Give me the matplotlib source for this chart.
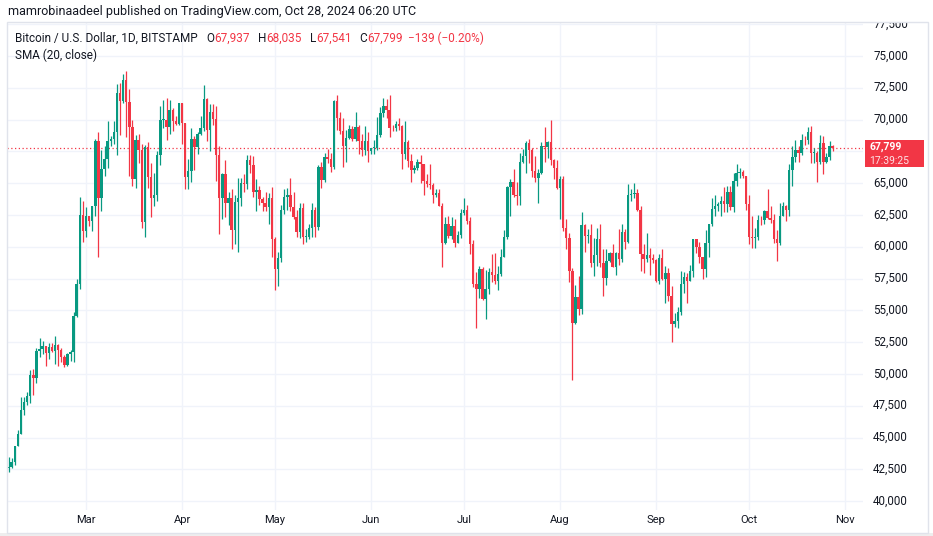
import matplotlib
matplotlib.use("Agg")
import matplotlib.pyplot as plt
import matplotlib.dates as mdates
from matplotlib.patches import Rectangle
import pandas as pd

# BTC/USD daily candles, BITSTAMP, from 2024-02-05 to 2024-10-28
start_date = "2024-02-05"
first_open = 42580

closes = [
    # Feb
    42660, 43090, 44340, 45290, 47140, 47770, 48300, 49940, 49700, 51800, 51930, 52160, 51660,
    52120, 51780, 52260, 51850, 51320, 50730, 51570, 51730, 54520, 57080, 62500, 61200,
    # Mar
    62440, 62030, 63170, 68330, 63800, 66100, 66930, 68300, 68500, 69020, 72100, 71480, 73100,
    71400, 69400, 65300, 68390, 67600, 61930, 67840, 65500, 63800, 64040, 67210, 69990, 69990,
    69450, 70780, 69880, 69640, 71330,
    # Apr
    69700, 65450, 65980, 68500, 67840, 68900, 69360, 71620, 69140, 70590, 70060, 67190, 63820,
    65740, 63420, 63810, 61280, 63510, 63840, 64990, 64930, 66840, 66400, 64300, 64480, 63760,
    63460, 63120, 63860, 60640,
    # May
    58250, 59120, 62890, 63890, 64030, 63160, 62330, 61190, 63050, 60790, 60800, 61460, 62900,
    61550, 66250, 65230, 67040, 66930, 66270, 71440, 70140, 69120, 67930, 68530, 69280, 68500,
    69390, 68320, 67630, 68350, 67490,
    # Jun
    67750, 67770, 68800, 70550, 71080, 70790, 69340, 69300, 69640, 69510, 67320, 68240, 66750,
    66010, 66190, 66640, 66490, 65150, 64960, 64840, 64100, 64260, 63180, 60280, 61800, 60860,
    61610, 60320, 60890, 62670,
    # Jul
    62850, 62030, 60200, 57050, 56660, 58230, 55860, 56700, 58000, 57740, 57340, 57890, 59200,
    60800, 64700, 65090, 64100, 63970, 66700, 67150, 68180, 67580, 65930, 65370, 65800, 67900,
    67830, 68250, 66800, 66170, 64620,
    # Aug
    65350, 61480, 60680, 58110, 54020, 56040, 55130, 61690, 60840, 60920, 58710, 59350, 60600,
    58740, 57560, 58880, 59480, 58440, 59490, 59010, 61160, 60380, 64090, 64160, 64220, 62880,
    59420, 59020, 59350, 59110, 58970,
    # Sep
    57300, 59130, 57480, 57970, 56160, 53960, 54160, 54870, 57050, 57650, 57340, 58130, 60570,
    60000, 59180, 58210, 60310, 61760, 62950, 63200, 63350, 63580, 63340, 64270, 63140, 65180,
    65790, 65880, 65600, 63330,
    # Oct
    60800, 60650, 60750, 62080, 62070, 62820, 62220, 62130, 60580, 60270, 62450, 63200, 62850,
    66050, 67040, 67620, 67380, 68400, 68360, 69000, 67370, 67370, 66650, 68160, 66630, 67020,
    67940, 67799,
]

highs = [
    43500, 43400, 44370, 45600, 48200, 48150, 48550, 50300, 50370, 52000, 52830, 52570, 52200,
    52400, 52450, 52950, 52350, 52000, 51500, 51650, 51900, 54900, 57500, 63900, 63600,
    63100, 62450, 63200, 68500, 69000, 67600, 67900, 69900, 68700, 69900, 72800, 72900, 73600,
    73800, 72400, 70000, 68800, 68900, 68100, 68000, 68200, 66600, 65800, 67500, 71100, 71500,
    71700, 71500, 70900, 70300, 71300,
    71300, 69700, 66900, 69300, 68700, 69000, 70300, 72700, 71700, 71200, 71200, 71100, 67900,
    65800, 66800, 64300, 64500, 64100, 65400, 65400, 65700, 67200, 67200, 67100, 65300, 64800,
    63900, 64300, 64200, 64700,
    60800, 59600, 63300, 64500, 64600, 65400, 64300, 62900, 63400, 63400, 61400, 61800, 63400,
    63100, 66400, 66700, 67400, 67700, 67400, 71500, 71900, 70600, 70100, 69200, 69600, 69500,
    70600, 69600, 68900, 69500, 69000,
    67800, 68400, 70200, 71000, 71700, 71600, 71900, 69600, 69900, 70100, 69600, 69900, 68400,
    67300, 66400, 66900, 67200, 66500, 65700, 66500, 65000, 64500, 64500, 63400, 62300, 62400,
    62300, 62200, 61200, 63000,
    63800, 63300, 62300, 60500, 58000, 58500, 58400, 58200, 58300, 59400, 59500, 58500, 59800,
    61300, 64800, 65300, 66100, 65100, 67400, 67700, 68300, 68500, 67800, 67100, 66100, 68200,
    69400, 68300, 70000, 66900, 66800,
    65600, 65600, 62200, 61100, 58300, 57000, 57700, 62700, 61800, 61400, 61800, 60700, 61500,
    61800, 59800, 59800, 59600, 60200, 59600, 61400, 61800, 61400, 64900, 64500, 65000, 64500,
    63200, 60200, 61100, 59900, 59400,
    59000, 59400, 59800, 58500, 58300, 56900, 54800, 55300, 58100, 58000, 57900, 58600, 60600,
    60600, 60400, 59200, 61300, 61800, 63800, 64100, 63500, 64000, 64700, 64800, 64800, 65800,
    66500, 66200, 66000, 65600,
    64100, 62400, 61500, 62500, 62400, 62900, 64500, 63200, 62600, 61300, 63400, 63500, 63300,
    66500, 67900, 68400, 67900, 68900, 68700, 69400, 69500, 67800, 67500, 68800, 68700, 67400,
    68300, 68035,
]

lows = [
    42250, 42600, 42800, 44340, 45250, 46800, 47540, 47700, 48350, 49300, 51330, 51600, 50650,
    51200, 51700, 50800, 50650, 50900, 50550, 50600, 51000, 50950, 54450, 56700, 60400,
    60800, 61600, 61200, 62400, 59200, 62800, 65600, 66200, 67900, 68100, 67200, 68800, 71300,
    68600, 65600, 64800, 64600, 66600, 61500, 60800, 64600, 62300, 63200, 63600, 66400, 69300,
    68400, 68900, 69100, 69600, 69600,
    68100, 64500, 64500, 65100, 66000, 67300, 68800, 69100, 68300, 67500, 69600, 65200, 61000,
    62200, 62300, 61700, 59800, 60200, 59600, 63200, 64300, 64500, 65800, 63900, 62800, 63300,
    62800, 62800, 61800, 59200,
    56600, 56900, 58800, 62600, 62900, 62800, 62200, 60800, 60700, 60200, 60400, 60600, 60800,
    60800, 61300, 64600, 65100, 66600, 65900, 66100, 69200, 68900, 66300, 66700, 68500, 68300,
    68300, 67300, 67100, 67200, 66700,
    67300, 67300, 67600, 68600, 70200, 70100, 68600, 69100, 69100, 69200, 66100, 66900, 66300,
    65100, 65800, 66000, 65000, 64100, 64700, 64500, 63400, 63900, 63200, 58400, 60200, 60700,
    60600, 60000, 60300, 60700,
    62500, 61800, 59400, 56800, 53600, 56000, 55800, 54300, 56300, 57200, 57100, 56600, 57700,
    59200, 60600, 62400, 63900, 63300, 63300, 66600, 65800, 66600, 65500, 65100, 63400, 65700,
    66700, 67000, 66400, 65300, 64500,
    62200, 61200, 59800, 57200, 49500, 53900, 54600, 54700, 59600, 60300, 58400, 57700, 58500,
    58400, 56100, 57000, 58800, 58400, 57800, 58600, 58800, 59800, 60300, 63600, 63800, 62800,
    58100, 57900, 58800, 57800, 58700,
    57200, 57100, 57400, 55600, 55700, 52500, 53700, 53600, 54600, 56400, 55600, 57300, 57600,
    59500, 58700, 57500, 57600, 59200, 61600, 62400, 62800, 62400, 62700, 62700, 62900, 62700,
    64800, 65400, 65400, 62900,
    60200, 59900, 59900, 60500, 61700, 61800, 62200, 61900, 60300, 58900, 60100, 62400, 62000,
    62400, 64800, 66700, 66700, 67200, 68000, 68100, 66600, 66600, 65100, 66500, 65700, 66600,
    66800, 67541,
]

price_ticks = [40000, 42500, 45000, 47500, 50000, 52500, 55000, 57500, 60000, 62500,
               65000, 67500, 70000, 72500, 75000, 77500]
month_labels = ["Mar", "Apr", "May", "Jun", "Jul", "Aug", "Sep", "Oct", "Nov"]
month_starts = ["2024-03-01", "2024-04-01", "2024-05-01", "2024-06-01", "2024-07-01",
                "2024-08-01", "2024-09-01", "2024-10-01", "2024-11-01"]

last_price = 67799
countdown = "17:39:25"

UP = "#089981"
DOWN = "#F23645"
TXT = "#131722"
GRID = "#f0f3fa"

plt.rcParams["font.family"] = ["Roboto", "DejaVu Sans"]

opens = [first_open] + closes[:-1]
opens[-1] = 67937
dates = mdates.date2num(pd.date_range(start_date, periods=len(closes)))
mstarts = mdates.date2num(pd.to_datetime(month_starts))

W, H = 933, 536
fig = plt.figure(figsize=(W / 100, H / 100), dpi=100)
fig.patch.set_facecolor("white")

def fx(px):
    return px / W

def fy(py):
    return 1 - py / H

# plot area in pixels
L, R, T, B = 7, 863, 22, 510
ax = fig.add_axes([fx(L), fy(B), fx(R - L), (B - T) / H])
ax.set_xlim(mstarts[0] - 25.5, mstarts[-1] + 5.8)
ax.set_ylim(39300, 77670)
for s in ax.spines.values():
    s.set_visible(False)
ax.set_xticks([])
ax.set_yticks([])

for p in price_ticks:
    ax.axhline(p, color=GRID, lw=1, zorder=0)
for m in mstarts:
    ax.axvline(m, color=GRID, lw=1, zorder=0)

colors = [UP if c >= o else DOWN for o, c in zip(opens, closes)]
ax.vlines(dates, lows, highs, colors=colors, lw=0.9, zorder=2)
bottoms = [min(o, c) for o, c in zip(opens, closes)]
heights = [max(abs(c - o), 60) for o, c in zip(opens, closes)]
ax.bar(dates, heights, bottom=bottoms, width=0.78, color=colors, lw=0, zorder=3)

ax.axhline(last_price, color=DOWN, lw=0.9, ls=(0, (1, 2)), zorder=1)

# month labels under the plot
for m, lab in zip(mstarts, month_labels):
    ax.text(m, -10 / (B - T), lab, transform=ax.get_xaxis_transform(), ha="center",
            va="center", fontsize=8, color=TXT, clip_on=False)

# price axis (the label under the last-price tag is hidden, as on TradingView)
pax = fig.add_axes([fx(R), fy(B), fx(928 - R), (B - T) / H])
pax.set_ylim(ax.get_ylim())
pax.set_xlim(0, 1)
pax.axis("off")
for p in price_ticks:
    if abs(p - last_price) < 1200:
        continue
    pax.text((908 - R) / (928 - R), p, f"{p:,}", ha="right", va="center",
             fontsize=8.3, color=TXT, clip_on=True)

# last price tag
fig.patches.append(Rectangle((fx(865), fy(167)), fx(924 - 865), 27 / H,
                             transform=fig.transFigure, facecolor=DOWN,
                             edgecolor="none", zorder=5))
fig.text(fx(869), fy(147), f"{last_price:,}", ha="left", va="center", fontsize=7.5,
         color="white", fontweight="bold", zorder=6)
fig.text(fx(869), fy(160.5), countdown, ha="left", va="center", fontsize=7.5,
         color="#fde2e5", zorder=6)

# chart frame
fig.patches.append(Rectangle((fx(7), fy(533)), fx(928 - 7), (533 - 22) / H,
                             transform=fig.transFigure, fill=False,
                             edgecolor="#e0e3eb", lw=1, zorder=4))
fig.patches.append(Rectangle((0, 0), 1, 3 / H, transform=fig.transFigure,
                             facecolor="#eeeeee", edgecolor="none"))

# header
fig.text(fx(8), fy(11), "mamrobinaadeel published on TradingView.com, Oct 28, 2024 06:20 UTC",
         ha="left", va="center", fontsize=9, color=TXT)

# legend line with coloured values
fig.canvas.draw()
rend = fig.canvas.get_renderer()
pieces = [("Bitcoin / U.S. Dollar, 1D, BITSTAMP", TXT, 9), ("O", TXT, 0),
          ("67,937", DOWN, 8), ("H", TXT, 0), ("68,035", DOWN, 8), ("L", TXT, 0),
          ("67,541", DOWN, 8), ("C", TXT, 0), ("67,799", DOWN, 5),
          ("\u2212139 (\u22120.20%)", DOWN, 0)]
x = 15
for txt, col, gap in pieces:
    t = fig.text(fx(x), fy(38), txt, ha="left", va="center", fontsize=8.5, color=col)
    bb = t.get_window_extent(renderer=rend)
    x += bb.width + gap
fig.text(fx(15), fy(55), "SMA (20, close)", ha="left", va="center", fontsize=8.5, color=TXT)

fig.savefig("out.png", dpi=100)
